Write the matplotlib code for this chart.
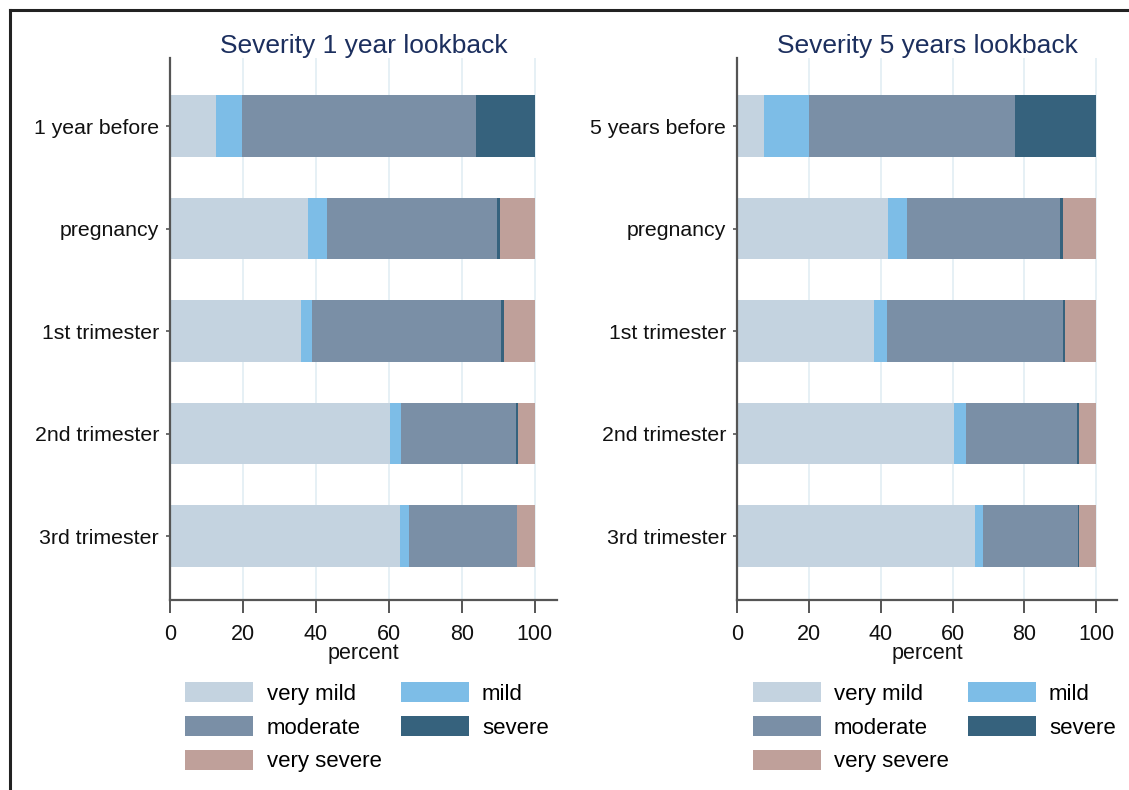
import matplotlib.pyplot as plt
from matplotlib.lines import Line2D
from matplotlib.patches import Patch

plt.rcParams['font.family'] = ['Liberation Sans', 'DejaVu Sans']

levels = ["very mild", "mild", "moderate", "severe", "very severe"]
colors = ["#c4d3e0", "#7dbde7", "#7a8fa6", "#36627d", "#bfa09a"]

periods_1y = ["1 year before", "pregnancy", "1st trimester", "2nd trimester", "3rd trimester"]
periods_5y = ["5 years before", "pregnancy", "1st trimester", "2nd trimester", "3rd trimester"]

# percent per severity level, one list per period (very mild .. very severe)
sev_1y = [
    [12.5, 7.2, 64.3, 16.0, 0.0],
    [37.9, 5.1, 46.7, 0.8, 9.5],
    [35.8, 3.2, 51.6, 0.9, 8.5],
    [60.2, 3.1, 31.5, 0.6, 4.6],
    [63.1, 2.5, 29.4, 0.2, 4.8],
]
sev_5y = [
    [7.5, 12.4, 57.5, 22.6, 0.0],
    [41.9, 5.5, 42.5, 1.0, 9.1],
    [38.0, 3.6, 49.1, 0.7, 8.6],
    [60.5, 3.3, 30.9, 0.6, 4.7],
    [66.3, 2.2, 26.4, 0.4, 4.7],
]


def draw_panel(ax, periods, data, title):
    ypos = list(range(len(periods)))
    left = [0.0] * len(periods)
    for j, lev in enumerate(levels):
        vals = [row[j] for row in data]
        ax.barh(ypos, vals, left=left, height=0.6, color=colors[j],
                edgecolor='none', label=lev, zorder=2)
        left = [a + b for a, b in zip(left, vals)]
    ax.set_yticks(ypos)
    ax.set_yticklabels(periods)
    ax.set_ylim(4.624, -0.663)
    ax.set_xlim(0, 106)
    ax.set_xticks([0, 20, 40, 60, 80, 100])
    ax.grid(axis='x', color='#e2eef3', linewidth=1.2, zorder=0)
    ax.set_axisbelow(True)
    for s in ['top', 'right']:
        ax.spines[s].set_visible(False)
    for s in ['left', 'bottom']:
        ax.spines[s].set_color('#555555')
        ax.spines[s].set_linewidth(1.6)
    ax.tick_params(axis='x', labelsize=15.5, length=9, width=1.4,
                   color='#555555', labelcolor='#111111', pad=8)
    ax.tick_params(axis='y', labelsize=15.3, length=3, width=1.2,
                   color='#555555', labelcolor='#111111', pad=5)
    ax.set_xlabel("percent", fontsize=15.5, color='#111111', labelpad=-1)
    ax.set_title(title, fontsize=19, color='#1c2f5e', pad=3)

    handles = [Patch(facecolor=c, edgecolor='none') for c in colors]
    order = [0, 2, 4, 1, 3]
    ax.legend([handles[i] for i in order], [levels[i] for i in order],
              ncol=2, loc='upper left', bbox_to_anchor=(0.04, -0.152),
              frameon=False, fontsize=16, handlelength=3.06, handleheight=1.0,
              handletextpad=0.6, columnspacing=0.85, labelspacing=0.5,
              borderaxespad=0, borderpad=0)


fig = plt.figure(figsize=(11.29, 7.90), dpi=100)
ax1 = fig.add_axes([0.1506, 0.2405, 0.3425, 0.686])
ax2 = fig.add_axes([0.6531, 0.2405, 0.3367, 0.686])
draw_panel(ax1, periods_1y, sev_1y, "Severity 1 year lookback")
draw_panel(ax2, periods_5y, sev_5y, "Severity 5 years lookback")

# outer frame
fig.add_artist(Line2D([0.0093, 0.0093], [0, 0.9875], transform=fig.transFigure,
                      color='#222222', linewidth=2.2))
fig.add_artist(Line2D([0.0093, 1.0], [0.9875, 0.9875], transform=fig.transFigure,
                      color='#222222', linewidth=2.2))

fig.savefig("out.png", dpi=100)
